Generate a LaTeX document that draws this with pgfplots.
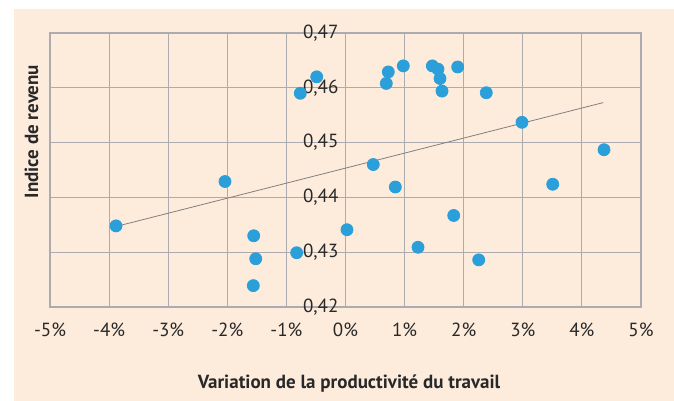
\documentclass[border=0pt]{standalone}
\usepackage{pgfplots}
\pgfplotsset{compat=1.18}
\usepackage{fontspec}
\setmainfont{PT Sans}
\definecolor{peach}{RGB}{253,236,220}
\definecolor{gridg}{RGB}{172,172,176}
\definecolor{dotb}{RGB}{43,159,217}
\definecolor{txt}{RGB}{40,40,40}
\begin{document}
\begin{tikzpicture}
\fill[white] (0,0) rectangle (337pt,200.5pt);
\fill[peach] (7pt,0) rectangle (337pt,196pt);
\begin{axis}[
  at={(25pt,47pt)}, anchor=south west,
  scale only axis, width=295.5pt, height=137pt,
  xmin=-5, xmax=5, ymin=0.42, ymax=0.47,
  xtick={-5,-4,-3,-2,-1,0,1,2,3,4,5},
  xticklabels={-5\%,-4\%,-3\%,-2\%,-1\%,0\%,1\%,2\%,3\%,4\%,5\%},
  ytick={0.42,0.43,0.44,0.45,0.46,0.47},
  yticklabels={0{,}42,0{,}43,0{,}44,0{,}45,0{,}46,0{,}47},
  major tick length=0pt,
  grid=major,
  grid style={gridg, line width=0.5pt},
  axis line style={gridg, line width=0.8pt},
  tick label style={font=\fontsize{9.5}{11}\selectfont, text=txt},
  yticklabel style={xshift=147.75pt},
  xticklabel style={yshift=-4.5pt},
  xlabel={\bfseries Variation de la productivité du travail},
  ylabel={\bfseries Indice de revenu},
  label style={font=\fontsize{9.5}{11}\selectfont\bfseries, text=txt},
  xlabel style={at={(rel axis cs:0.506,0)}, anchor=center, yshift=-38.5pt},
  ylabel style={at={(rel axis cs:-0.0313,0.6405)}, anchor=center},
  clip=false,
]
\addplot[gray, line width=0.4pt] coordinates {(-3.88,0.4347) (4.36,0.4573)};
\addplot[only marks, mark=*, mark size=3pt, mark options={fill=dotb, draw=dotb}] coordinates {
(-0.487,0.4620) (-0.765,0.4590) (-2.039,0.4429) (0.724,0.4629) (0.690,0.4608)
(0.978,0.4640) (1.469,0.4640) (1.565,0.4634) (1.599,0.4617) (1.633,0.4594)
(1.898,0.4638) (2.382,0.4591) (2.986,0.4537) (0.470,0.4460) (0.843,0.4419)
(3.506,0.4424) (4.374,0.4487) (-3.883,0.4348) (-1.553,0.4330) (-1.519,0.4288)
(-1.560,0.4239) (-0.826,0.4299) (0.025,0.4341) (1.227,0.4309) (1.831,0.4367)
(2.254,0.4286)
};
\end{axis}
\pgfresetboundingbox
\path (0,0) rectangle (337pt,200.5pt);
\end{tikzpicture}
\end{document}
